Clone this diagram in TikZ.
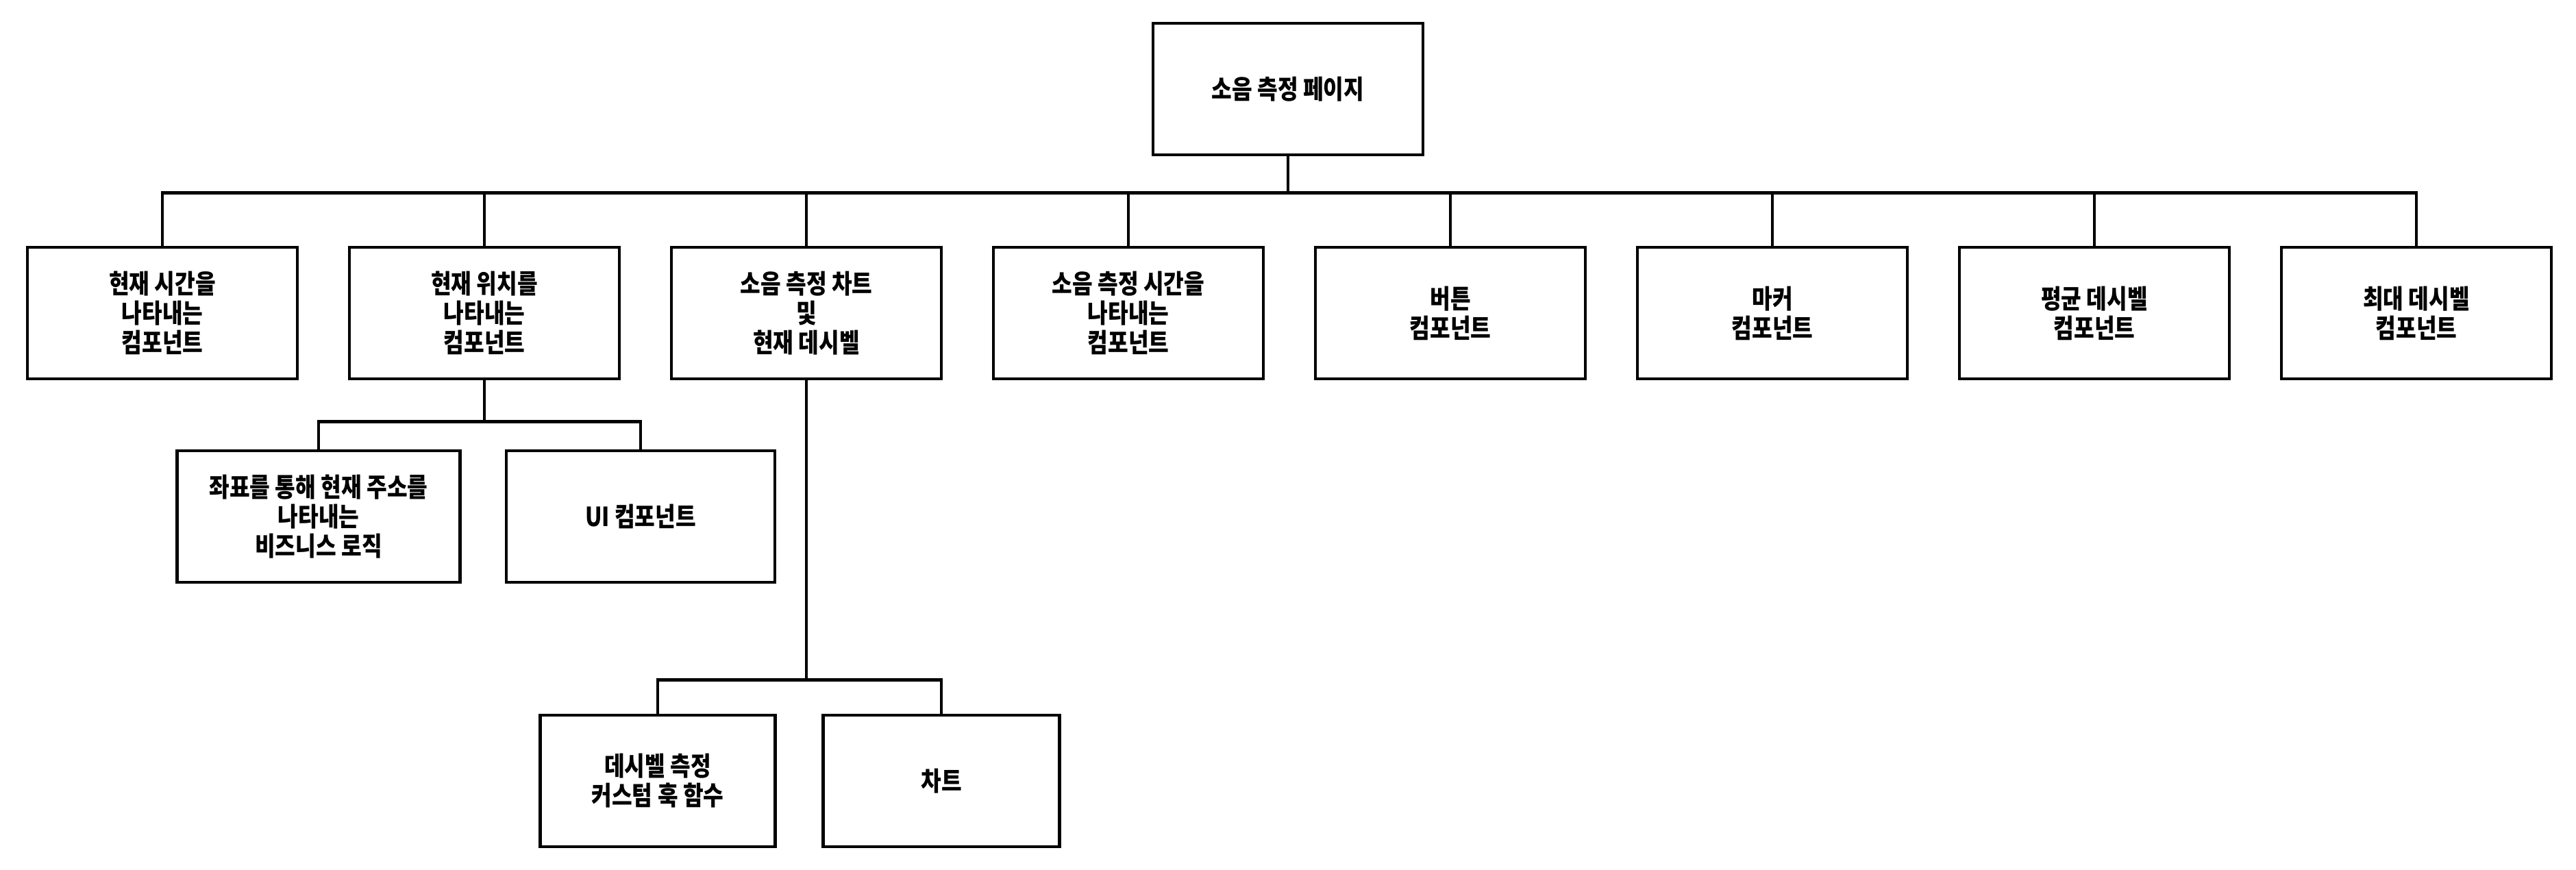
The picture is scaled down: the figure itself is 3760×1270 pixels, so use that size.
\documentclass[tikz,border=0pt]{standalone}
\usepackage{fontspec}
\setmainfont{Noto Sans CJK KR}[FakeStretch=0.84]

\begin{document}
\begin{tikzpicture}[x=0.25pt, y=-0.25pt, line width=1.2pt,
  box/.style={draw, line width=1.2pt, align=center, inner sep=0pt,
    font=\bfseries\fontsize{9.6}{10.75}\selectfont,
    minimum width=98.5pt, minimum height=48pt}]
  \useasboundingbox (0,0) rectangle (3760,1270);

  % root
  \node[box] (page) at (1880,130) {소음 측정 페이지};

  % first level
  \foreach \i/\px/\t in {1/237/{현재 시간을\\나타내는\\컴포넌트},
      2/707/{현재 위치를\\나타내는\\컴포넌트},
      3/1177/{소음 측정 차트\\및\\현재 데시벨},
      4/1647/{소음 측정 시간을\\나타내는\\컴포넌트},
      5/2117/{버튼\\컴포넌트},
      6/2587/{마커\\컴포넌트},
      7/3057/{평균 데시벨\\컴포넌트},
      8/3527/{최대 데시벨\\컴포넌트}}
    \node[box] (c\i) at (\px,457) {\t};

  % children of the location box
  \node[box, minimum width=103.25pt] (addr) at (465,754) {좌표를 통해 현재 주소를\\나타내는\\비즈니스 로직};
  \node[box, minimum width=98pt] (ui) at (935,754) {UI 컴포넌트};

  % children of the chart box
  \node[box, minimum width=85.75pt] (hook) at (960,1140) {데시벨 측정\\커스텀 훅 함수};
  \node[box, minimum width=86.25pt] (chart) at (1374,1140) {차트};

  % connectors
  \foreach \i in {1,...,8}
    \draw (page.south) -- ++(0,53) -| (c\i.north);
  \draw (c2.south) -- ++(0,60) -| (addr.north);
  \draw (c2.south) -- ++(0,60) -| (ui.north);
  \draw (c3.south) -- ++(0,437) -| (hook.north);
  \draw (c3.south) -- ++(0,437) -| (chart.north);
\end{tikzpicture}
\end{document}
